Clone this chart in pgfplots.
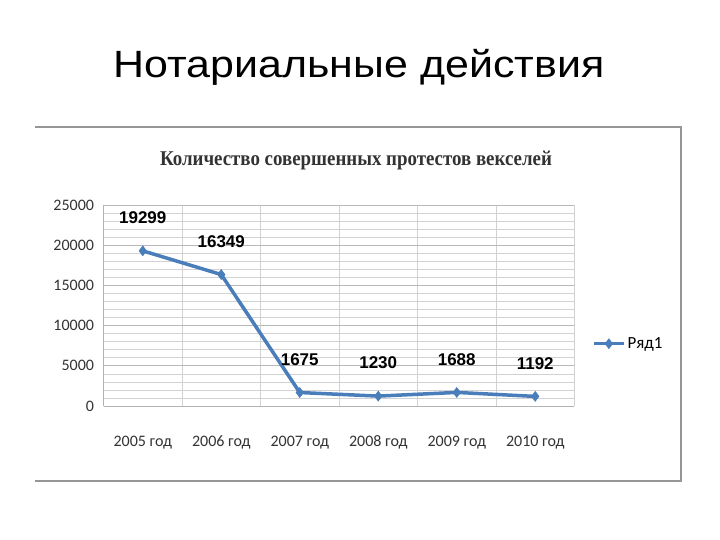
\documentclass[border=0pt]{standalone}
\usepackage{pgfplots}
\pgfplotsset{compat=1.18}
\usepackage{fontspec}
\setmainfont{Liberation Sans}
\newfontfamily\carlito{Carlito}
\newfontfamily\ttlfont{Liberation Serif}
\definecolor{ser}{RGB}{74,126,187}
\definecolor{frm}{RGB}{150,150,150}

\begin{document}
\begin{tikzpicture}[x=1pt,y=1pt]
\path[fill=white] (0,0) rectangle (720,540);
% slide title
\node[font=\fontsize{38}{42}\selectfont,anchor=base,xscale=1.13] at (359,462) {Нотариальные действия};
% frame of the pasted chart
\draw[frm,line width=2.5pt] (35,413) -- (681,413) -- (681,59) -- (35,59);
\node[font=\ttlfont\bfseries\fontsize{21}{24}\selectfont,text=black!80,xscale=0.9,anchor=base] at (356,374) {Количество совершенных протестов векселей};
\begin{axis}[at={(103.5pt,134pt)},anchor=south west,scale only axis,
width=471pt,height=201pt,
xmin=-0.5,xmax=5.5,ymin=0,ymax=25000,
xtick={0,...,5},
xticklabels={2005 год,2006 год,2007 год,2008 год,2009 год,2010 год},
minor xtick={-0.5,0.5,...,5.5},
ytick={0,5000,...,25000},
minor y tick num=4,
xmajorgrids=false,xminorgrids=true,ymajorgrids=true,yminorgrids=true,
major grid style={gray!55,line width=0.8pt},
minor grid style={gray!35,line width=0.6pt},
axis line style={gray!60},
axis x line*=bottom,axis y line*=left,
major tick length=0pt,minor tick length=0pt,
tick label style={font=\carlito\fontsize{16}{18}\selectfont,text=black!80},
xticklabel style={anchor=center,text height=11pt,text depth=3pt,yshift=-37pt},
yticklabel style={xshift=-6pt},
scaled y ticks=false,
/pgf/number format/assume math mode=true,
/pgf/number format/1000 sep={},
legend style={at={(1.037,0.31)},anchor=west,draw=none,fill=none,
font=\carlito\fontsize{17}{19}\selectfont,inner sep=0pt},
legend cell align=left,
legend image code/.code={
\draw[#1,mark repeat=2,mark phase=2] plot coordinates {(0pt,0pt) (15pt,0pt) (30pt,0pt)};},
]
\addplot[ser,line width=3.5pt,mark=diamond*,mark size=5pt,
mark options={solid,fill=ser,line width=0.5pt},
nodes near coords,
every node near coord/.append style={anchor=center,yshift=33pt,text=black,
font=\bfseries\fontsize{17}{19}\selectfont},
] coordinates {(0,19299) (1,16349) (2,1675) (3,1230) (4,1688) (5,1192)};
\addlegendentry{Ряд1}
\end{axis}
\end{tikzpicture}
\end{document}
